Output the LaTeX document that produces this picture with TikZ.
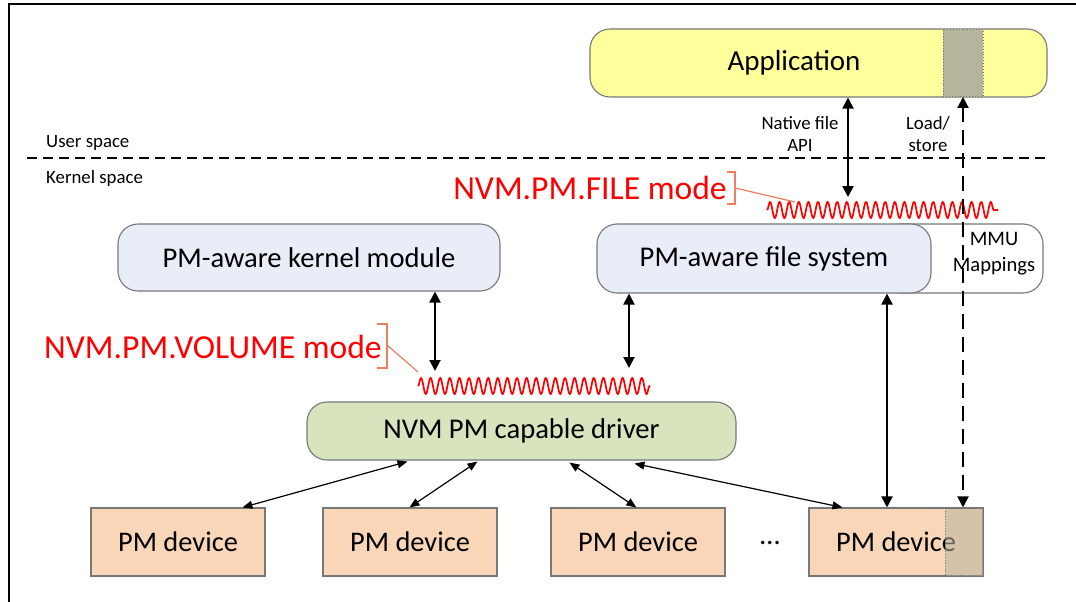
\documentclass[tikz,border=0pt]{standalone}
\usepackage{fontspec}
\setmainfont{Carlito}
\usetikzlibrary{arrows.meta,decorations.pathmorphing,calc}
\definecolor{appyellow}{RGB}{255,255,156}
\definecolor{grayfill}{RGB}{182,180,156}
\definecolor{bluefill}{RGB}{233,237,247}
\definecolor{greenfill}{RGB}{215,228,190}
\definecolor{pmfill}{RGB}{249,214,184}
\definecolor{calloutc}{RGB}{240,125,95}
\definecolor{boxline}{RGB}{120,120,120}
\tikzset{
 box/.style={draw=boxline, line width=1.1pt, rounded corners=20pt, inner sep=0pt},
 boxtext/.style={font=\fontsize{28.6}{32}\selectfont, inner sep=0pt, text=black},
 pmbox/.style={draw=boxline, line width=1.1pt, fill=pmfill, inner sep=0pt, minimum width=174pt, minimum height=68pt, font=\fontsize{28.4}{32}\selectfont},
 grayblk/.style={draw=black!55, dotted, line width=0.9pt, fill=grayfill, inner sep=0pt},
 small/.style={font=\fontsize{18.8}{22}\selectfont, inner sep=0pt, align=center},
 redlbl/.style={text=red, font=\fontsize{33.6}{38}\selectfont, inner sep=0pt},
 callout/.style={draw=calloutc, line width=1.2pt},
 squig/.style={draw=red, line width=1.7pt, decorate, decoration={snake, segment length=9.6pt, amplitude=8pt}},
 thickarr/.style={line width=2pt, {Triangle[length=11pt,width=11pt]}-{Triangle[length=11pt,width=11pt]}},
 thinarr/.style={line width=1.2pt, {Triangle[length=10pt,width=8pt]}-{Triangle[length=10pt,width=8pt]}},
}
\begin{document}
\begin{tikzpicture}[x=1pt,y=-1pt]
\useasboundingbox (0,0) rectangle (1076,602);
\fill[white] (0,0) rectangle (1076,602);
% frame
\draw[line width=2pt] (9,602) -- (9,4) -- (1076,4);

% user / kernel separator
\coordinate (sepL) at (27,158);
\coordinate (sepR) at (1051,158);
\draw[line width=2pt, dash pattern=on 10pt off 6pt] (sepL) -- (sepR);
\node[small, anchor=west] (user) at (46,143) {User space};
\node[small, anchor=west] (kern) at (46,178) {Kernel space};

% application
\node[box, fill=appyellow, minimum width=457pt, minimum height=68pt] (app) at (818.5,63) {};
\node[grayblk, minimum width=40pt, minimum height=67pt] (appgray) at (963,63) {};
\node[boxtext, font=\fontsize{29}{32}\selectfont] (apptext) at (794,63) {Application};

% MMU box (behind FS)
\node[box, fill=white, minimum width=163pt, minimum height=69pt] (mmu) at (961.5,258.5) {};
\node[small, font=\fontsize{20.6}{26}\selectfont] (mmutext) at (994,254) {MMU\\Mappings};
% FS box
\node[box, fill=bluefill, minimum width=334pt, minimum height=69pt, boxtext] (fs) at (764,258.5) {PM-aware file system};
% kernel module
\node[box, fill=bluefill, minimum width=382pt, minimum height=67pt, boxtext] (kmod) at (309,257.5) {PM-aware kernel module};
% driver
\node[box, fill=greenfill, minimum width=429pt, minimum height=58pt, boxtext] (drv) at (521.5,431) {NVM PM capable driver};

% PM devices
\node[pmbox] (pm1) at (178,542) {PM device};
\node[pmbox] (pm2) at (410,542) {PM device};
\node[pmbox] (pm3) at (638,542) {PM device};
\node[pmbox] (pm4) at (896,542) {PM device};
\node[grayblk, fill opacity=0.55, minimum width=38pt, minimum height=67pt] (pmgray) at (964,542) {};
\node[boxtext] (dots) at (770,543) {\dots};

% labels on top arrows
\node[small] (natlbl) at (800,134) {Native file\\API};
\node[small] (ldlbl) at (928,134) {Load/\\store};

% squiggles
\coordinate (sqFa) at (767,210);
\coordinate (sqFb) at (998,210);
\draw[squig] (sqFa) -- (sqFb);
\coordinate (sqVa) at (418,386);
\coordinate (sqVb) at (650,386);
\draw[squig] (sqVa) -- (sqVb);

% red mode labels with brackets
\node[redlbl] (filelbl) at (590,188) {NVM.PM.FILE mode};
\coordinate (bF1) at (727,172);
\coordinate (bF2) at (735,172);
\coordinate (bF3) at (735,204);
\coordinate (bF4) at (727,204);
\coordinate (bFm) at (735,188);
\coordinate (bFt) at (795,202);
\draw[callout] (bF1) -- (bF2) -- (bF3) -- (bF4);
\draw[callout] (bFm) -- (bFt);

\node[redlbl] (vollbl) at (213,346.5) {NVM.PM.VOLUME mode};
\coordinate (bV1) at (377,324);
\coordinate (bV2) at (387,324);
\coordinate (bV3) at (387,368);
\coordinate (bV4) at (377,368);
\coordinate (bVm) at (387,345);
\coordinate (bVt) at (418,372);
\draw[callout] (bV1) -- (bV2) -- (bV3) -- (bV4);
\draw[callout] (bVm) -- (bVt);

% thick arrows
\coordinate (natEnd) at (848,197);
\draw[thickarr] (app.south -| natEnd) -- (natEnd);
\draw[thickarr, dash pattern=on 15pt off 8pt] (appgray.south) -- (appgray.south |- pm4.north);
\coordinate (kmEnd) at (435,371);
\draw[thickarr] (kmod.south -| kmEnd) -- (kmEnd);
\coordinate (fsEnd) at (629,368);
\draw[thickarr] (fs.south -| fsEnd) -- (fsEnd);
\coordinate (fsX) at (887,0);
\draw[thickarr] (fs.south -| fsX) -- (pm4.north -| fsX);

% thin arrows device <-> driver
\draw[thinarr] ($(pm1.north west)+(152,0)$) -- ($(drv.south west)+(101,1)$);
\draw[thinarr] ($(pm2.north west)+(87,0)$) -- ($(drv.south west)+(171,1)$);
\draw[thinarr] ($(pm3.north west)+(86,0)$) -- ($(drv.south west)+(263,2)$);
\draw[thinarr] ($(pm4.north west)+(34,0)$) -- ($(drv.south west)+(328,3)$);
\end{tikzpicture}
\end{document}
